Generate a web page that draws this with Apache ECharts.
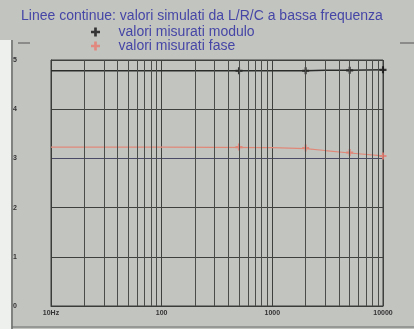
<!DOCTYPE html>
<html>
<head>
<meta charset="utf-8">
<script src="https://cdn.jsdelivr.net/npm/echarts@6/dist/echarts.min.js"></script>
<style>
  html, body { margin: 0; padding: 0; background: #c2c4c0; }
  #chart { width: 414px; height: 329px; }
</style>
</head>
<body>
<div id="chart"></div>
<script>
// Frequency axis (Hz, log scale) and the fixed y scale
const xTickLabels = { 10: '10Hz', 100: '100', 1000: '1000', 10000: '10000' };
const yTickLabels = ['0', '1', '2', '3', '4', '5'];

// Intermediate log grid lines (2..9 in each decade)
const minorGridFreqs = [
  20, 30, 40, 50, 60, 70, 80, 90,
  200, 300, 400, 500, 600, 700, 800, 900,
  2000, 3000, 4000, 5000, 6000, 7000, 8000, 9000
];

// Simulated curves (continuous lines)
const simFreqs   = [10, 100, 1000, 2000, 3000, 5000, 10000];
const simModulo  = [4.78, 4.78, 4.78, 4.78, 4.79, 4.79, 4.80];
const simFase    = [3.23, 3.23, 3.22, 3.20, 3.16, 3.11, 3.05];

// Measured points
const measFreqs  = [500, 2000, 5000, 10000];
const measModulo = [4.78, 4.78, 4.79, 4.80];
const measFase   = [3.23, 3.21, 3.12, 3.05];

const PLUS = 'path://M3.5,0H6.5V3.5H10V6.5H6.5V10H3.5V6.5H0V3.5H3.5Z';

const pairs = (xs, ys) => xs.map((x, i) => [x, ys[i]]);

const chart = echarts.init(document.getElementById('chart'), null, { renderer: 'canvas' });

chart.setOption({
  backgroundColor: '#c2c4c0',
  animation: false,
  textStyle: { fontFamily: 'Liberation Sans, Arial, sans-serif' },
  title: {
    text: 'Linee continue: valori simulati da L/R/C a bassa frequenza',
    left: 16, top: 4,
    textStyle: { color: '#4646a6', fontSize: 14, fontWeight: 'normal' }
  },
  legend: {
    orient: 'vertical',
    left: 86, top: 20,
    itemGap: 0,
    itemWidth: 36, itemHeight: 9,
    textStyle: { color: '#4646a6', fontSize: 14 },
    data: [
      { name: 'valori misurati modulo', icon: PLUS, itemStyle: { color: '#111' } },
      { name: 'valori misurati fase', icon: PLUS, itemStyle: { color: '#e87a6e' } }
    ]
  },
  graphic: [
    { type: 'rect', shape: { x: 0, y: 40, width: 11, height: 289 }, style: { fill: '#eef0ee' }, silent: true },
    { type: 'line', shape: { x1: 12, y1: 40, x2: 12, y2: 329 }, style: { stroke: '#6a6c6a', lineWidth: 1.5 }, silent: true },
    { type: 'line', shape: { x1: 18, y1: 43, x2: 30, y2: 43 }, style: { stroke: '#555', lineWidth: 1 }, silent: true },
    { type: 'line', shape: { x1: 400, y1: 43, x2: 414, y2: 43 }, style: { stroke: '#555', lineWidth: 1 }, silent: true },
    { type: 'line', shape: { x1: 12, y1: 327, x2: 414, y2: 327 }, style: { stroke: '#6a6c6a', lineWidth: 1 }, silent: true }
  ],
  grid: {
    left: 51, right: 31, top: 60, bottom: 23,
    show: true, borderColor: '#3a3c3a', borderWidth: 1, backgroundColor: 'transparent'
  },
  xAxis: {
    type: 'log', logBase: 10, min: 10, max: 10000,
    axisLine: { show: true, lineStyle: { color: '#3a3c3a' } },
    axisTick: { show: false },
    axisLabel: {
      color: '#333', fontSize: 7, fontWeight: 'bold', margin: 4,
      formatter: v => xTickLabels[Math.round(v)] || ''
    },
    splitLine: { show: true, lineStyle: { color: '#3e403e', width: 1 } }
  },
  yAxis: {
    type: 'value', min: 0, max: 5, interval: 1,
    axisLine: { show: true, lineStyle: { color: '#3a3c3a' } },
    axisTick: { show: false },
    axisLabel: {
      color: '#333', fontSize: 7, fontWeight: 'bold', margin: 34,
      formatter: v => yTickLabels[Math.round(v)]
    },
    splitLine: {
      show: true,
      lineStyle: { color: ['#3e403e', '#3e403e', '#3e403e', '#4a4a66', '#3e403e', '#3e403e'], width: 1 }
    }
  },
  series: [
    {
      name: 'griglia',
      type: 'line',
      data: [],
      silent: true,
      markLine: {
        silent: true,
        symbol: 'none',
        label: { show: false },
        lineStyle: { color: '#4a4c4a', width: 1, type: 'solid' },
        data: minorGridFreqs.map(f => ({ xAxis: f }))
      }
    },
    {
      name: 'modulo simulato',
      type: 'line',
      data: pairs(simFreqs, simModulo),
      showSymbol: false,
      lineStyle: { color: '#2a2c2a', width: 1.5 }
    },
    {
      name: 'fase simulata',
      type: 'line',
      data: pairs(simFreqs, simFase),
      showSymbol: false,
      lineStyle: { color: '#e08878', width: 1.2 }
    },
    {
      name: 'valori misurati modulo',
      type: 'scatter',
      data: pairs(measFreqs, measModulo),
      symbol: PLUS,
      symbolSize: 7,
      itemStyle: { color: '#111' }
    },
    {
      name: 'valori misurati fase',
      type: 'scatter',
      data: pairs(measFreqs, measFase),
      symbol: PLUS,
      symbolSize: 7,
      itemStyle: { color: '#e87a6e' }
    }
  ]
});
</script>
</body>
</html>
